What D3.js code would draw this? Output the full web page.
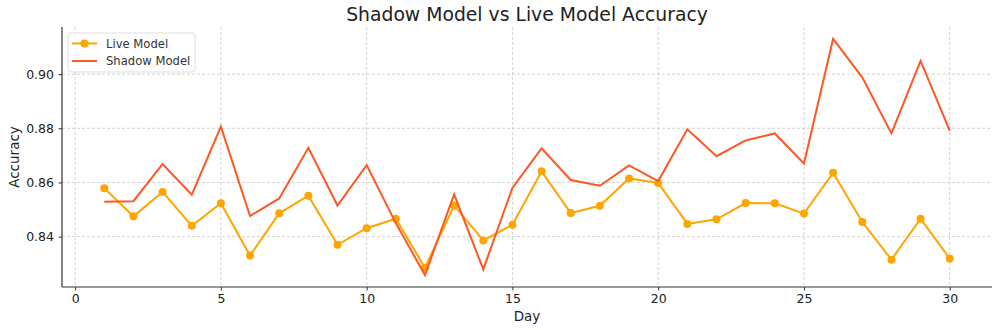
<!DOCTYPE html>
<html><head><meta charset="utf-8">
<script src="https://cdn.jsdelivr.net/npm/d3@7"></script>
<style>body{margin:0;background:#fff}svg{display:block;font-family:"DejaVu Sans",sans-serif}</style>
</head><body><svg id="c" width="1000" height="330"></svg>
<script>
const days = d3.range(1, 31);
const liveValues = [0.8579,0.8475,0.8565,0.8440,0.8523,0.8330,0.8486,0.8551,0.8370,0.8431,
  0.8466,0.8285,0.8515,0.8386,0.8444,0.8641,0.8487,0.8514,0.8615,0.8598,
  0.8447,0.8464,0.8524,0.8523,0.8485,0.8636,0.8454,0.8315,0.8466,0.8319];
const shadowValues = [0.8529,0.8531,0.8668,0.8555,0.8806,0.8476,0.8541,0.8728,0.8515,0.8664,
  0.8450,0.8258,0.8556,0.8279,0.8580,0.8726,0.8609,0.8588,0.8663,0.8605,
  0.8796,0.8697,0.8755,0.8781,0.8670,0.9130,0.8988,0.8781,0.9049,0.8791];
const xTicks = [0,5,10,15,20,25,30];
const yTicks = [0.84,0.86,0.88,0.90];
const seriesNames = ["Live Model","Shadow Model"];
const colors = {"Live Model":"#FFA500","Shadow Model":"#FF5722"};

const svg = d3.select("#c");
const L = 62, R = 992, T = 27, B = 287;
const x = d3.scaleLinear().domain([-0.45, 31.45]).range([L, R]);
const ymin = 0.8258 - 0.0044, ymax = 0.9130 + 0.0044;
const y = d3.scaleLinear().domain([ymin, ymax]).range([B, T]);

// grid
const g = svg.append("g");
g.selectAll(".vg").data(xTicks).join("line")
  .attr("x1", d=>x(d)).attr("x2", d=>x(d)).attr("y1", T).attr("y2", B)
  .attr("stroke", "#c8c8c8").attr("stroke-width", 0.8).attr("stroke-dasharray", "3,2");
g.selectAll(".hg").data(yTicks).join("line")
  .attr("x1", L).attr("x2", R).attr("y1", d=>y(d)).attr("y2", d=>y(d))
  .attr("stroke", "#c8c8c8").attr("stroke-width", 0.8).attr("stroke-dasharray", "3,2");

// axes
const xAxis = svg.append("g").attr("transform", `translate(0,${B})`)
  .call(d3.axisBottom(x).tickValues(xTicks).tickSize(3.5).tickPadding(4).tickFormat(d3.format("d")));
const yAxis = svg.append("g").attr("transform", `translate(${L},0)`)
  .call(d3.axisLeft(y).tickValues(yTicks).tickSize(3.5).tickPadding(4.5).tickFormat(d3.format(".2f")));
[xAxis, yAxis].forEach(a => {
  a.attr("font-size", 12.5).attr("font-family", "DejaVu Sans");
  a.select(".domain").remove();
  a.selectAll("text").attr("fill", "#222");
  a.selectAll(".tick line").attr("stroke", "#333");
});
svg.append("line").attr("x1", L).attr("x2", L).attr("y1", T).attr("y2", B).attr("stroke", "#333").attr("stroke-width", 1.2);
svg.append("line").attr("x1", L).attr("x2", R).attr("y1", B).attr("y2", B).attr("stroke", "#333").attr("stroke-width", 1.2);

// lines
const line = d3.line().x((d,i)=>x(days[i])).y(d=>y(d));
svg.append("path").datum(liveValues).attr("d", line).attr("fill","none")
  .attr("stroke", colors["Live Model"]).attr("stroke-width", 2);
svg.selectAll(".pt").data(liveValues).join("circle")
  .attr("cx",(d,i)=>x(days[i])).attr("cy", d=>y(d)).attr("r", 4)
  .attr("fill", colors["Live Model"]);
svg.append("path").datum(shadowValues).attr("d", line).attr("fill","none")
  .attr("stroke", colors["Shadow Model"]).attr("stroke-width", 2);

// title & labels
svg.append("text").attr("x", (L+R)/2).attr("y", 20.5).attr("text-anchor","middle")
  .attr("font-size", 18.8).attr("fill","#222").text("Shadow Model vs Live Model Accuracy");
svg.append("text").attr("x", (L+R)/2).attr("y", 321).attr("text-anchor","middle")
  .attr("font-size", 13.5).attr("fill","#222").text("Day");
svg.append("text").attr("transform", `translate(19,${(T+B)/2}) rotate(-90)`).attr("text-anchor","middle")
  .attr("font-size", 13.5).attr("fill","#222").text("Accuracy");

// legend
const lg = svg.append("g").attr("transform", "translate(68,33)");
lg.append("rect").attr("width", 127).attr("height", 39).attr("rx", 3)
  .attr("fill","#fff").attr("fill-opacity",0.8).attr("stroke","#ddd");
seriesNames.forEach((n,i)=>{
  const yy = 10.5 + i*17.5;
  lg.append("line").attr("x1", 4).attr("x2", 29).attr("y1", yy).attr("y2", yy)
    .attr("stroke", colors[n]).attr("stroke-width", 2);
  if (i===0) lg.append("circle").attr("cx", 16.5).attr("cy", yy).attr("r", 4).attr("fill", colors[n]);
  lg.append("text").attr("x", 38).attr("y", yy+4.2).attr("font-size", 11.6).attr("fill","#333").text(n);
});
</script></body></html>
